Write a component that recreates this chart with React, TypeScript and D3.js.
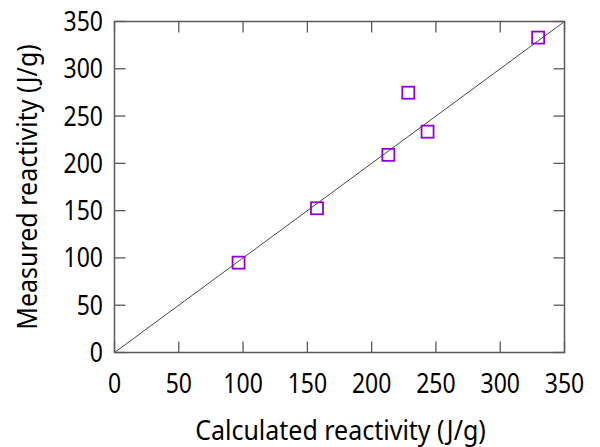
import React from "react";
import * as d3 from "d3";

const calculated = [96.5, 157.5, 213, 228.5, 243.5, 329.5];
const measured = [95, 152.5, 209, 274.7, 233.5, 333];
const xTicks = [0, 50, 100, 150, 200, 250, 300, 350];
const yTicks = [0, 50, 100, 150, 200, 250, 300, 350];
const xTitle = "Calculated reactivity (J/g)";
const yTitle = "Measured reactivity (J/g)";

const W = 600;
const H = 447;
const L = 114.5, R = 564.5, T = 21.5, B = 352.5;
const FONT = "Noto Sans, DejaVu Sans, sans-serif";
const TICK = 11;

export default function App() {
  const x = d3.scaleLinear().domain([0, 350]).range([L, R]);
  const y = d3.scaleLinear().domain([0, 350]).range([B, T]);
  const diag = d3.line<[number, number]>().x(d => x(d[0])).y(d => y(d[1]));
  const axisColor = "#5a5a5a";
  return (
    <svg width={W} height={H} style={{ position: "absolute", left: 0, top: 0, background: "#fff" }}>
      <path d={diag([[0, 0], [350, 350]]) || ""} stroke="#4a4a4a" strokeWidth={1} fill="none" />
      {xTicks.map(t => (
        <g key={"xt" + t}>
          <line x1={x(t)} x2={x(t)} y1={B} y2={B - TICK} stroke={axisColor} strokeWidth={1.3} />
          <line x1={x(t)} x2={x(t)} y1={T} y2={T + TICK} stroke={axisColor} strokeWidth={1.3} />
          <text transform={`translate(${x(t)},393) scale(1,1.15)`} textAnchor="middle" fontFamily={FONT} fontSize={23} fill="#000">{t}</text>
        </g>
      ))}
      {yTicks.map(t => (
        <g key={"yt" + t}>
          <line x1={L} x2={L + TICK} y1={y(t)} y2={y(t)} stroke={axisColor} strokeWidth={1.3} />
          <line x1={R} x2={R - TICK} y1={y(t)} y2={y(t)} stroke={axisColor} strokeWidth={1.3} />
          <text transform={`translate(103,${y(t) + 9.5}) scale(1,1.15)`} textAnchor="end" fontFamily={FONT} fontSize={23} fill="#000">{t}</text>
        </g>
      ))}
      <rect x={L} y={T} width={R - L} height={B - T} fill="none" stroke={axisColor} strokeWidth={1.5} />
      {calculated.map((c, i) => (
        <rect key={"p" + i} x={x(c) - 6} y={y(measured[i]) - 6} width={12} height={12} fill="none" stroke="#9400d3" strokeWidth={1.8} />
      ))}
      <text transform={`translate(${(L + R) / 2 + 1},440) scale(1,1.12)`} textAnchor="middle" fontFamily={FONT} fontSize={25} fill="#000">{xTitle}</text>
      <text transform={`translate(37,${(T + B) / 2}) rotate(-90) scale(1,1.12)`} textAnchor="middle" fontFamily={FONT} fontSize={25} fill="#000">{yTitle}</text>
    </svg>
  );
}
